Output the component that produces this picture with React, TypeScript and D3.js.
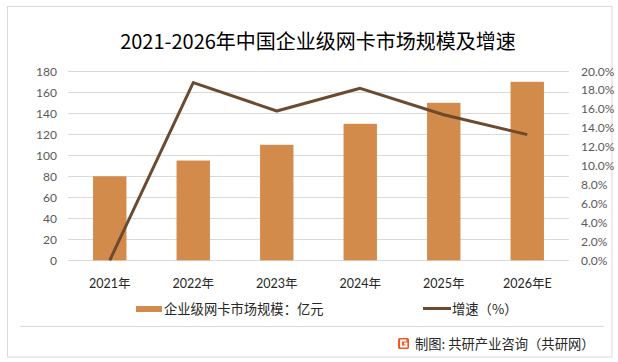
import React from "react";
import * as d3 from "d3";

const categories = ["2021年", "2022年", "2023年", "2024年", "2025年", "2026年E"];
const marketSize = [80, 95, 110, 130, 150, 170];
const growthRate = [0.0, 18.8, 15.8, 18.2, 15.4, 13.3];
const leftTicks = [0, 20, 40, 60, 80, 100, 120, 140, 160, 180];
const rightTicks = [0, 2, 4, 6, 8, 10, 12, 14, 16, 18, 20];

const title = "2021-2026年中国企业级网卡市场规模及增速";
const barLegend = "企业级网卡市场规模：亿元";
const lineLegend = "增速（%）";
const footer = "制图: 共研产业咨询（共研网）";

const W = 618;
const H = 362;
const plot = { left: 68, right: 569, top: 71.3, bottom: 260.3 };
const barColor = "#D38B4B";
const lineColor = "#6B4A2F";
const gridColor = "#D9D9D9";
const numFont = "Lato, 'Noto Sans CJK SC', sans-serif";
const cjkFont = "'Noto Sans CJK SC', 'Noto Sans', sans-serif";

export default function App() {
  const x = d3
    .scaleBand<string>()
    .domain(categories)
    .range([plot.left, plot.right])
    .paddingInner(0.6)
    .paddingOuter(0.3);
  const yL = d3.scaleLinear().domain([0, 180]).range([plot.bottom, plot.top]);
  const yR = d3.scaleLinear().domain([0, 20]).range([plot.bottom, plot.top]);
  const line = d3
    .line<number>()
    .x((_, i) => (x(categories[i]) as number) + x.bandwidth() / 2)
    .y((d) => yR(d));

  return (
    <svg
      width={W}
      height={H}
      style={{ position: "absolute", left: 0, top: 0, background: "#fff" }}
    >
      <rect x={0} y={0} width={W} height={H} fill="#fff" />
      <rect x={7.5} y={6.5} width={604.5} height={350.5} fill="none" stroke={gridColor} strokeWidth={1} />
      <text
        x={318}
        y={48.5}
        textAnchor="middle"
        fontFamily={cjkFont}
        fontSize={20}
        fill="#000"
      >
        {title}
      </text>
      {leftTicks.map((t) => (
        <line
          key={"g" + t}
          x1={plot.left}
          x2={plot.right}
          y1={Math.round(yL(t)) + 0.5}
          y2={Math.round(yL(t)) + 0.5}
          stroke={gridColor}
          strokeWidth={1}
        />
      ))}
      {leftTicks.map((t) => (
        <text
          key={"l" + t}
          x={57}
          y={yL(t)}
          dy="0.35em"
          textAnchor="end"
          fontFamily={numFont}
          fontSize={12}
          fill="#595959"
        >
          {t}
        </text>
      ))}
      {rightTicks.map((t) => (
        <text
          key={"r" + t}
          x={581}
          y={yR(t)}
          dy="0.35em"
          textAnchor="start"
          fontFamily={numFont}
          fontSize={12}
          fill="#595959"
        >
          {t.toFixed(1) + "%"}
        </text>
      ))}
      {marketSize.map((v, i) => (
        <rect
          key={"b" + i}
          x={x(categories[i])}
          y={yL(v)}
          width={x.bandwidth()}
          height={yL(0) - yL(v)}
          fill={barColor}
        />
      ))}
      <path d={line(growthRate) || ""} fill="none" stroke={lineColor} strokeWidth={3} strokeLinejoin="round" />
      {categories.map((c) => (
        <text
          key={"x" + c}
          x={(x(c) as number) + x.bandwidth() / 2}
          y={284}
          dy="0.35em"
          textAnchor="middle"
          fontFamily={numFont}
          fontSize={12.5}
          fill="#262626"
        >
          {c}
        </text>
      ))}
      <rect x={136} y={306} width={26} height={6} fill={barColor} />
      <text x={164} y={309} dy="0.35em" fontFamily={cjkFont} fontSize={13.3} fill="#262626">
        {barLegend}
      </text>
      <line x1={423} x2={451} y1={308.5} y2={308.5} stroke={lineColor} strokeWidth={3} />
      <text x={452} y={309} dy="0.35em" fontFamily={cjkFont} fontSize={13.3} fill="#262626">
        {lineLegend}
      </text>
      <line x1={20} x2={604} y1={326.5} y2={326.5} stroke={gridColor} strokeWidth={1} />
      <g transform="translate(398,338)">
        <rect x={0} y={0} width={11} height={11} rx={1.5} fill="#F05A22" />
        <path d="M8.5 2.5 H3 V8.5 H8.5 V5.5 H6" fill="none" stroke="#fff" strokeWidth={1.8} />
      </g>
      <text x={415} y={344} dy="0.35em" fontFamily={cjkFont} fontSize={13.3} fill="#262626">
        {footer}
      </text>
    </svg>
  );
}
